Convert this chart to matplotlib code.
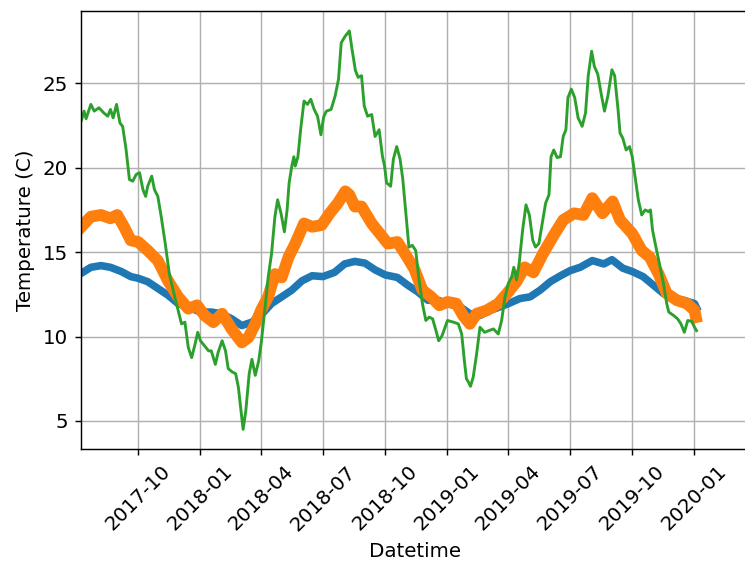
import matplotlib
matplotlib.use("Agg")
import matplotlib.pyplot as plt
import matplotlib.dates as mdates
import pandas as pd

# blue series (smoothest)
blue_dates = [
    "2017-07-09", "2017-07-23", "2017-08-07", "2017-08-21", "2017-09-06", "2017-09-20",
    "2017-10-01", "2017-10-15", "2017-10-30", "2017-11-14", "2017-11-29", "2017-12-14",
    "2018-01-01", "2018-01-17", "2018-02-01", "2018-02-16", "2018-03-03", "2018-03-18",
    "2018-04-01", "2018-04-16", "2018-05-01", "2018-05-16", "2018-05-31", "2018-06-15",
    "2018-07-01", "2018-07-18", "2018-08-02", "2018-08-17", "2018-09-01", "2018-09-16",
    "2018-10-01", "2018-10-19", "2018-11-03", "2018-11-18", "2018-12-03", "2018-12-18",
    "2019-01-01", "2019-01-20", "2019-02-03", "2019-02-18", "2019-03-05", "2019-03-19",
    "2019-04-01", "2019-04-18", "2019-05-03", "2019-05-18", "2019-06-02", "2019-06-17",
    "2019-07-01", "2019-07-16", "2019-08-03", "2019-08-20", "2019-09-01", "2019-09-17",
    "2019-10-01", "2019-10-17", "2019-11-01", "2019-11-16", "2019-12-01", "2019-12-16",
    "2020-01-01", "2020-01-04",
]
blue_vals = [
    13.75, 14.1, 14.2, 14.1, 13.85, 13.55,
    13.45, 13.25, 12.85, 12.45, 11.95, 11.75,
    11.45, 11.45, 11.35, 11.05, 10.65, 10.85,
    11.3, 11.95, 12.35, 12.75, 13.3, 13.6,
    13.55, 13.8, 14.3, 14.45, 14.35, 13.95,
    13.65, 13.5, 13.05, 12.65, 12.15, 12.15,
    11.95, 11.75, 11.35, 11.25, 11.55, 11.75,
    11.95, 12.25, 12.35, 12.75, 13.25, 13.6,
    13.9, 14.1, 14.5, 14.3, 14.55, 14.05,
    13.85, 13.55, 13.05, 12.55, 12.25, 12.15,
    11.95, 11.7,
]

# orange series
orange_dates = [
    "2017-07-09", "2017-07-23", "2017-08-07", "2017-08-21", "2017-08-31", "2017-09-10",
    "2017-09-20", "2017-10-01", "2017-10-15", "2017-10-30", "2017-11-14", "2017-11-29",
    "2017-12-14", "2017-12-27", "2018-01-07", "2018-01-20", "2018-02-02", "2018-02-16",
    "2018-03-03", "2018-03-13", "2018-03-23", "2018-04-01", "2018-04-11", "2018-04-21",
    "2018-05-01", "2018-05-11", "2018-05-21", "2018-06-03", "2018-06-15", "2018-06-29",
    "2018-07-11", "2018-07-23", "2018-08-03", "2018-08-09", "2018-08-17", "2018-08-27",
    "2018-09-11", "2018-09-23", "2018-10-05", "2018-10-19", "2018-11-01", "2018-11-13",
    "2018-11-25", "2018-12-08", "2018-12-20", "2019-01-01", "2019-01-14", "2019-01-24",
    "2019-02-03", "2019-02-13", "2019-02-28", "2019-03-17", "2019-04-01", "2019-04-13",
    "2019-04-25", "2019-05-08", "2019-05-22", "2019-06-07", "2019-06-21", "2019-07-07",
    "2019-07-21", "2019-08-03", "2019-08-18", "2019-09-02", "2019-09-13", "2019-10-01",
    "2019-10-15", "2019-10-27", "2019-11-09", "2019-11-21", "2019-12-06", "2019-12-21",
    "2020-01-01", "2020-01-03",
]
orange_vals = [
    16.5, 17.1, 17.2, 17.0, 17.2, 16.5,
    15.7, 15.6, 15.1, 14.5, 13.3, 12.35,
    11.65, 11.85, 11.25, 10.85, 11.35, 10.45,
    9.65, 9.95, 10.75, 11.6, 12.35, 13.7,
    13.5, 14.7, 15.5, 16.7, 16.5, 16.6,
    17.3, 17.9, 18.6, 18.4, 17.7, 17.7,
    16.7, 16.1, 15.5, 15.6, 14.8, 14.0,
    12.75, 12.35, 11.85, 12.05, 11.95, 11.25,
    10.75, 11.35, 11.55, 11.95, 12.65, 13.25,
    14.1, 13.8, 14.9, 16.0, 16.9, 17.3,
    17.2, 18.2, 17.3, 18.0, 16.9, 16.1,
    15.1, 14.7, 13.7, 12.55, 12.15, 11.95,
    11.55, 11.15,
]

# green series (largest swings)
green_dates = [
    "2017-07-09", "2017-07-13", "2017-07-16", "2017-07-23", "2017-07-28", "2017-08-04",
    "2017-08-11", "2017-08-17", "2017-08-21", "2017-08-25", "2017-08-30", "2017-09-04",
    "2017-09-08", "2017-09-13", "2017-09-18", "2017-09-23", "2017-09-28", "2017-10-03",
    "2017-10-08", "2017-10-12", "2017-10-15", "2017-10-21", "2017-10-25", "2017-10-30",
    "2017-11-04", "2017-11-10", "2017-11-16", "2017-11-24", "2017-11-29", "2017-12-04",
    "2017-12-09", "2017-12-14", "2017-12-19", "2017-12-24", "2017-12-28", "2018-01-01",
    "2018-01-07", "2018-01-13", "2018-01-17", "2018-01-23", "2018-01-27", "2018-02-02",
    "2018-02-07", "2018-02-11", "2018-02-17", "2018-02-22", "2018-02-26", "2018-03-02",
    "2018-03-05", "2018-03-09", "2018-03-14", "2018-03-18", "2018-03-23", "2018-03-28",
    "2018-04-01", "2018-04-06", "2018-04-11", "2018-04-16", "2018-04-21", "2018-04-25",
    "2018-04-30", "2018-05-05", "2018-05-09", "2018-05-12", "2018-05-16", "2018-05-19",
    "2018-05-21", "2018-05-25", "2018-05-29", "2018-06-03", "2018-06-08", "2018-06-13",
    "2018-06-18", "2018-06-23", "2018-06-28", "2018-07-02", "2018-07-06", "2018-07-13",
    "2018-07-19", "2018-07-24", "2018-07-28", "2018-08-03", "2018-08-09", "2018-08-13",
    "2018-08-18", "2018-08-22", "2018-08-27", "2018-08-31", "2018-09-05", "2018-09-11",
    "2018-09-16", "2018-09-22", "2018-09-27", "2018-09-30", "2018-10-03", "2018-10-09",
    "2018-10-13", "2018-10-18", "2018-10-23", "2018-10-27", "2018-10-31", "2018-11-05",
    "2018-11-10", "2018-11-15", "2018-11-20", "2018-11-25", "2018-11-30", "2018-12-05",
    "2018-12-10", "2018-12-15", "2018-12-19", "2018-12-24", "2019-01-01", "2019-01-10",
    "2019-01-17", "2019-01-22", "2019-01-26", "2019-01-29", "2019-02-01", "2019-02-04",
    "2019-02-08", "2019-02-13", "2019-02-18", "2019-02-25", "2019-03-03", "2019-03-10",
    "2019-03-17", "2019-03-22", "2019-03-27", "2019-04-01", "2019-04-06", "2019-04-09",
    "2019-04-13", "2019-04-17", "2019-04-22", "2019-04-27", "2019-05-02", "2019-05-07",
    "2019-05-11", "2019-05-16", "2019-05-21", "2019-05-26", "2019-05-31", "2019-06-03",
    "2019-06-07", "2019-06-12", "2019-06-17", "2019-06-21", "2019-06-25", "2019-06-28",
    "2019-07-03", "2019-07-08", "2019-07-13", "2019-07-19", "2019-07-24", "2019-07-28",
    "2019-08-02", "2019-08-06", "2019-08-11", "2019-08-16", "2019-08-21", "2019-08-26",
    "2019-09-01", "2019-09-05", "2019-09-10", "2019-09-13", "2019-09-17", "2019-09-22",
    "2019-09-27", "2019-10-01", "2019-10-05", "2019-10-10", "2019-10-15", "2019-10-20",
    "2019-10-25", "2019-10-28", "2019-10-31", "2019-11-05", "2019-11-10", "2019-11-16",
    "2019-11-21", "2019-11-24", "2019-12-01", "2019-12-07", "2019-12-12", "2019-12-17",
    "2019-12-22", "2019-12-28", "2020-01-01", "2020-01-04",
]
green_vals = [
    22.8, 23.35, 22.9, 23.75, 23.35, 23.55,
    23.25, 23.05, 23.45, 22.95, 23.75, 22.65,
    22.45, 21.1, 19.3, 19.2, 19.6, 19.7,
    18.7, 18.3, 18.9, 19.5, 18.7, 18.3,
    17.1, 15.5, 13.7, 12.35, 11.55, 10.75,
    10.85, 9.35, 8.75, 9.55, 10.25, 9.75,
    9.45, 9.15, 9.15, 8.35, 9.05, 9.75,
    9.15, 8.1, 7.9, 7.8, 7.0, 5.6,
    4.5, 5.6, 7.8, 8.65, 7.7, 8.55,
    9.7, 11.55, 13.5, 14.9, 17.1, 18.1,
    17.3, 16.2, 17.5, 19.1, 20.1, 20.65,
    20.1, 20.65, 22.25, 23.95, 23.75, 24.05,
    23.45, 23.05, 21.95, 23.0, 23.35, 23.45,
    24.25, 25.25, 27.4, 27.8, 28.1, 27.0,
    25.75, 25.35, 25.45, 23.65, 23.05, 23.15,
    21.85, 22.25, 20.65, 20.1, 19.1, 18.9,
    20.5, 21.25, 20.5, 19.3, 17.5, 15.3,
    15.4, 15.1, 13.35, 11.95, 10.95, 11.15,
    11.05, 10.35, 9.75, 10.05, 10.95, 10.85,
    10.75, 10.15, 8.55, 7.5, 7.3, 7.05,
    7.6, 8.95, 10.55, 10.25, 10.35, 10.45,
    10.15, 10.95, 12.35, 13.15, 13.55, 14.1,
    13.35, 14.35, 16.3, 17.8, 17.2, 15.7,
    15.3, 15.5, 16.7, 17.9, 18.4, 20.65,
    21.05, 20.6, 20.65, 21.85, 22.25, 24.15,
    24.65, 24.15, 22.95, 22.45, 23.25, 25.45,
    26.9, 26.0, 25.55, 24.4, 23.35, 24.25,
    25.8, 25.45, 23.45, 22.05, 21.75, 21.05,
    21.25, 20.65, 19.5, 18.1, 17.2, 17.5,
    17.4, 17.5, 16.3, 15.3, 14.35, 13.15,
    11.95, 11.45, 11.25, 11.05, 10.75, 10.25,
    10.95, 10.9, 10.55, 10.35,
]

x_start = pd.Timestamp("2017-07-08")
x_end = pd.Timestamp("2020-03-23")

plt.rcParams["font.size"] = 11

fig = plt.figure(figsize=(745 / 130, 562 / 130), dpi=130)
# right spine sits just past the right edge of the picture
ax = fig.add_axes([0.1083, 0.2005, 0.8984, 0.7799])

ax.plot(pd.to_datetime(blue_dates), blue_vals, color="tab:blue", linewidth=4.2)
ax.plot(pd.to_datetime(orange_dates), orange_vals, color="tab:orange", linewidth=6.5)
ax.plot(pd.to_datetime(green_dates), green_vals, color="tab:green", linewidth=1.6)

ax.set_xlim(x_start, x_end)
ax.xaxis.set_major_locator(mdates.MonthLocator(bymonth=[1, 4, 7, 10]))
ax.xaxis.set_major_formatter(mdates.DateFormatter("%Y-%m"))
ax.set_xlabel("Datetime")
ax.set_ylabel("Temperature (C)")
ax.grid(True)
plt.setp(ax.get_xticklabels(), rotation=45)

fig.savefig("out.png", dpi=130)
